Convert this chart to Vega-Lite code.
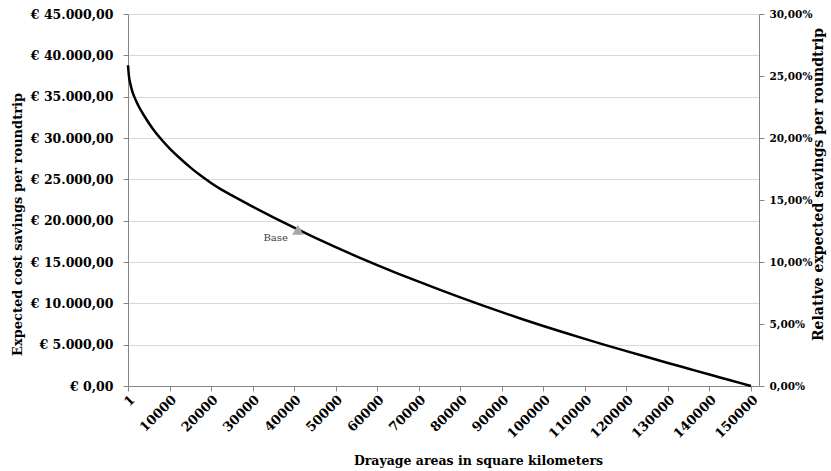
{
  "$schema": "https://vega.github.io/schema/vega-lite/v6.json",
  "width": 631,
  "height": 372,
  "autosize": {"type": "none"},
  "padding": {"left": 128, "top": 14, "right": 72, "bottom": 85},
  "background": "white",
  "config": {
    "locale": {"number": {"decimal": ",", "thousands": ".", "grouping": [3], "currency": ["€ ", ""]}},
    "view": {"stroke": null},
    "axis": {
      "labelFont": "DejaVu Serif", "labelFontWeight": "bold", "labelColor": "#000000",
      "titleFont": "DejaVu Serif", "titleFontWeight": "bold", "titleColor": "#000000",
      "domainColor": "#868686", "tickColor": "#868686", "gridColor": "#D9D9D9"
    }
  },
  "datasets": {
    "curve": [
      {"area": 1, "savings": 38800},
      {"area": 250, "savings": 37400},
      {"area": 500, "savings": 36700},
      {"area": 1000, "savings": 35700},
      {"area": 1500, "savings": 35000},
      {"area": 2500, "savings": 33900},
      {"area": 4000, "savings": 32600},
      {"area": 6000, "savings": 31100},
      {"area": 8000, "savings": 29850},
      {"area": 10000, "savings": 28750},
      {"area": 12500, "savings": 27550},
      {"area": 15000, "savings": 26450},
      {"area": 17500, "savings": 25450},
      {"area": 20000, "savings": 24550},
      {"area": 22500, "savings": 23750},
      {"area": 25000, "savings": 23050},
      {"area": 30000, "savings": 21700},
      {"area": 35000, "savings": 20400},
      {"area": 40000, "savings": 19150},
      {"area": 45000, "savings": 17950},
      {"area": 50000, "savings": 16800},
      {"area": 55000, "savings": 15690},
      {"area": 60000, "savings": 14620},
      {"area": 65000, "savings": 13600},
      {"area": 70000, "savings": 12620},
      {"area": 75000, "savings": 11660},
      {"area": 80000, "savings": 10720},
      {"area": 85000, "savings": 9810},
      {"area": 90000, "savings": 8930},
      {"area": 95000, "savings": 8080},
      {"area": 100000, "savings": 7260},
      {"area": 105000, "savings": 6470},
      {"area": 110000, "savings": 5700},
      {"area": 115000, "savings": 4950},
      {"area": 120000, "savings": 4220},
      {"area": 125000, "savings": 3500},
      {"area": 130000, "savings": 2790},
      {"area": 135000, "savings": 2090},
      {"area": 140000, "savings": 1390},
      {"area": 145000, "savings": 695},
      {"area": 150000, "savings": 0}
    ],
    "base": [{"area": 40900, "savings": 18900, "label": "Base"}],
    "relative": [{"area": 1, "pct": 0}, {"area": 1, "pct": 0.3}]
  },
  "layer": [
    {
      "layer": [
        {
          "data": {"name": "curve"},
          "mark": {"type": "line", "color": "#000000", "strokeWidth": 2.5, "interpolate": "monotone"},
          "encoding": {
            "x": {
              "field": "area", "type": "quantitative",
              "scale": {"domain": [1, 151930], "nice": false, "zero": false},
              "axis": {
                "title": "Drayage areas in square kilometers",
                "values": [1, 10000, 20000, 30000, 40000, 50000, 60000, 70000, 80000, 90000, 100000, 110000, 120000, 130000, 140000, 150000],
                "format": "d", "labelAngle": -45, "labelFontSize": 13, "grid": false, "labelOverlap": false,
                "tickSize": 5, "labelPadding": 2, "titleFontSize": 12.5, "titleX": 350, "titleY": 68
              }
            },
            "y": {
              "field": "savings", "type": "quantitative",
              "scale": {"domain": [0, 45000], "nice": false},
              "axis": {
                "title": "Expected cost savings per roundtrip",
                "values": [0, 5000, 10000, 15000, 20000, 25000, 30000, 35000, 40000, 45000],
                "format": "$,.2f", "labelFontSize": 12.5, "tickSize": 5, "labelPadding": 10, "labelOverlap": false,
                "titleFontSize": 13, "titlePadding": 6, "titleY": 210
              }
            }
          }
        },
        {
          "data": {"name": "base"},
          "mark": {"type": "point", "shape": "triangle-up", "filled": true, "color": "#A6A6A6", "opacity": 1, "size": 130},
          "encoding": {
            "x": {"field": "area", "type": "quantitative"},
            "y": {"field": "savings", "type": "quantitative"}
          }
        },
        {
          "data": {"name": "base"},
          "mark": {"type": "text", "align": "right", "baseline": "middle", "dx": -10, "dy": 8, "font": "DejaVu Serif", "fontSize": 10, "color": "#404040"},
          "encoding": {
            "x": {"field": "area", "type": "quantitative"},
            "y": {"field": "savings", "type": "quantitative"},
            "text": {"field": "label"}
          }
        }
      ]
    },
    {
      "data": {"name": "relative"},
      "mark": {"type": "point", "opacity": 0},
      "encoding": {
        "x": {"field": "area", "type": "quantitative"},
        "y": {
          "field": "pct", "type": "quantitative",
          "scale": {"domain": [0, 0.3], "nice": false},
          "axis": {
            "orient": "right", "title": "Relative expected savings per roundtrip",
            "values": [0, 0.05, 0.1, 0.15, 0.2, 0.25, 0.3], "format": ".2%", "labelOverlap": false,
            "labelFontSize": 10.5, "grid": false, "tickSize": 5, "labelPadding": 5,
            "titleFontSize": 14, "titlePadding": 14, "titleAngle": 270, "titleY": 170
          }
        }
      }
    }
  ],
  "resolve": {"scale": {"y": "independent"}}
}
